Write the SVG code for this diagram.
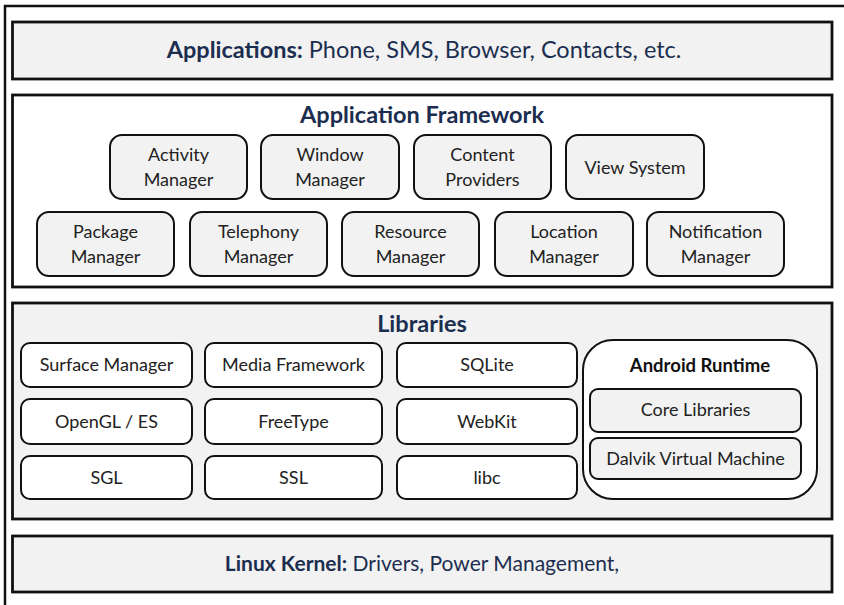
<svg xmlns="http://www.w3.org/2000/svg" width="844" height="605" viewBox="0 0 844 605">
<style>
.layer{stroke:#111;stroke-width:2.8;}
.grey{fill:#f2f2f2;}
.white{fill:#ffffff;}
.node{stroke:#111;stroke-width:2;}
.title{font-family:Lato,"Open Sans",sans-serif;font-weight:bold;fill:#1c2e4f;font-size:23.5px;text-anchor:middle;}
.band{font-family:Lato,"Open Sans",sans-serif;fill:#1c2e4f;font-size:23.5px;text-anchor:middle;}
.lbl{font-family:Lato,"Open Sans",sans-serif;fill:#222;font-size:18px;text-anchor:middle;}
.lblb{font-family:Lato,"Open Sans",sans-serif;fill:#111;font-size:18.5px;font-weight:bold;text-anchor:middle;}
</style>
<rect width="844" height="605" fill="#ffffff"/>
<path d="M5,605 V6 H844" fill="none" stroke="#111" stroke-width="2.5"/>

<g id="applications">
<rect class="layer grey" x="12.5" y="22" width="819.5" height="57"/>
<text class="band" x="424" y="58"><tspan font-weight="bold">Applications:</tspan> Phone, SMS, Browser, Contacts, etc.</text>
</g>

<g id="framework">
<rect class="layer white" x="12.5" y="95" width="819.5" height="192"/>
<text class="title" x="422" y="123">Application Framework</text>
</g>
<g id="activity-manager"><rect class="node grey" x="110" y="135" width="137" height="64" rx="12"/><text class="lbl" x="178.5" y="161">Activity</text><text class="lbl" x="178.5" y="186">Manager</text></g>
<g id="window-manager"><rect class="node grey" x="261" y="135" width="138" height="64" rx="12"/><text class="lbl" x="330" y="161">Window</text><text class="lbl" x="330" y="186">Manager</text></g>
<g id="content-providers"><rect class="node grey" x="414" y="135" width="137" height="64" rx="12"/><text class="lbl" x="482.5" y="161">Content</text><text class="lbl" x="482.5" y="186">Providers</text></g>
<g id="view-system"><rect class="node grey" x="566" y="135" width="138" height="64" rx="12"/><text class="lbl" x="635" y="174">View System</text></g>
<g id="package-manager"><rect class="node grey" x="37" y="212" width="137" height="64" rx="12"/><text class="lbl" x="105.5" y="238">Package</text><text class="lbl" x="105.5" y="263">Manager</text></g>
<g id="telephony-manager"><rect class="node grey" x="190" y="212" width="137" height="64" rx="12"/><text class="lbl" x="258.5" y="238">Telephony</text><text class="lbl" x="258.5" y="263">Manager</text></g>
<g id="resource-manager"><rect class="node grey" x="342" y="212" width="137" height="64" rx="12"/><text class="lbl" x="410.5" y="238">Resource</text><text class="lbl" x="410.5" y="263">Manager</text></g>
<g id="location-manager"><rect class="node grey" x="495" y="212" width="138" height="64" rx="12"/><text class="lbl" x="564" y="238">Location</text><text class="lbl" x="564" y="263">Manager</text></g>
<g id="notification-manager"><rect class="node grey" x="647" y="212" width="137" height="64" rx="12"/><text class="lbl" x="715.5" y="238">Notification</text><text class="lbl" x="715.5" y="263">Manager</text></g>

<g id="libraries">
<rect class="layer grey" x="12.5" y="303" width="819.5" height="216"/>
<text class="title" x="422" y="332">Libraries</text>
</g>
<g id="surface-manager"><rect class="node white" x="21" y="343" width="171" height="44" rx="9"/><text class="lbl" x="106.5" y="371">Surface Manager</text></g>
<g id="media-framework"><rect class="node white" x="205" y="343" width="177" height="44" rx="9"/><text class="lbl" x="293.5" y="371">Media Framework</text></g>
<g id="sqlite"><rect class="node white" x="397" y="343" width="180" height="44" rx="9"/><text class="lbl" x="487" y="371">SQLite</text></g>
<g id="opengl-es"><rect class="node white" x="21" y="399" width="171" height="45" rx="9"/><text class="lbl" x="106.5" y="428">OpenGL / ES</text></g>
<g id="freetype"><rect class="node white" x="205" y="399" width="177" height="45" rx="9"/><text class="lbl" x="293.5" y="428">FreeType</text></g>
<g id="webkit"><rect class="node white" x="397" y="399" width="180" height="45" rx="9"/><text class="lbl" x="487" y="428">WebKit</text></g>
<g id="sgl"><rect class="node white" x="21" y="456" width="171" height="43" rx="9"/><text class="lbl" x="106.5" y="484">SGL</text></g>
<g id="ssl"><rect class="node white" x="205" y="456" width="177" height="43" rx="9"/><text class="lbl" x="293.5" y="484">SSL</text></g>
<g id="libc"><rect class="node white" x="397" y="456" width="180" height="43" rx="9"/><text class="lbl" x="487" y="484">libc</text></g>

<g id="android-runtime"><rect class="node white" x="583" y="340" width="234" height="159" rx="30"/><text class="lblb" x="700" y="372">Android Runtime</text></g>
<g id="core-libraries"><rect class="node grey" x="590" y="389" width="211" height="43" rx="8"/><text class="lbl" x="695.5" y="416">Core Libraries</text></g>
<g id="dalvik-vm"><rect class="node grey" x="590" y="438" width="211" height="41" rx="8"/><text class="lbl" x="695.5" y="465">Dalvik Virtual Machine</text></g>

<g id="linux-kernel">
<rect class="layer grey" x="12.5" y="536" width="819.5" height="56"/>
<text class="band" x="422" y="571" style="font-size:21px"><tspan font-weight="bold">Linux Kernel:</tspan> Drivers, Power Management,</text>
</g>
<g id="connectors"/>
</svg>
